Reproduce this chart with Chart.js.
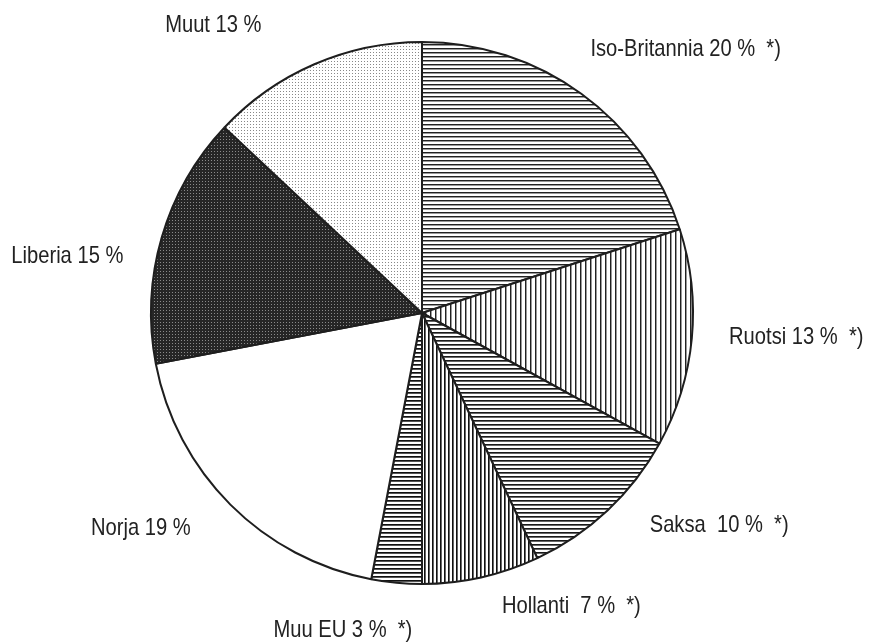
<!DOCTYPE html>
<html>
<head>
<meta charset="utf-8">
<script src="https://cdn.jsdelivr.net/npm/chart.js@4.4.1/dist/chart.umd.min.js"></script>
<style>
  html, body { margin: 0; padding: 0; background: #fff; }
  #wrap { width: 869px; height: 642px; }
</style>
</head>
<body>
<div id="wrap"><canvas id="pieChart"></canvas></div>
<script>
// shares of the fleet, clockwise from 12 o'clock
const countries = ['Iso-Britannia', 'Ruotsi', 'Saksa ', 'Hollanti ', 'Muu EU', 'Norja', 'Liberia', 'Muut'];
const shares = [20, 13, 10, 7, 3, 19, 15, 13];
const euMark = [true, true, true, true, true, false, false, false];

// little tiles for the scanned-look hatches
function tile(w, h, draw) {
    const c = document.createElement('canvas');
    c.width = w; c.height = h;
    const g = c.getContext('2d');
    draw(g);
    return document.createElement('canvas').getContext('2d').createPattern(c, 'repeat');
}
function hLines(period, dark, soft) {
    return tile(8, period, g => {
        g.fillStyle = '#fff'; g.fillRect(0, 0, 8, period);
        g.fillStyle = dark; g.fillRect(0, 0, 8, 1);
        g.fillStyle = soft; g.fillRect(0, 1, 8, 1);
    });
}
function vLines(period, dark, soft) {
    return tile(period, 8, g => {
        g.fillStyle = '#fff'; g.fillRect(0, 0, period, 8);
        g.fillStyle = dark; g.fillRect(0, 0, 1, 8);
        g.fillStyle = soft; g.fillRect(1, 0, 1, 8);
    });
}
function dots(bg, dot) {
    return tile(3, 3, g => {
        g.fillStyle = bg; g.fillRect(0, 0, 3, 3);
        g.fillStyle = dot; g.fillRect(1, 1, 1, 1);
    });
}

const fills = [
    hLines(4, '#222', '#999'),
    vLines(5, '#222', '#999'),
    hLines(4, '#1a1a1a', '#666'),
    vLines(4, '#111', '#666'),
    hLines(4, '#111', '#555'),
    '#ffffff',
    dots('#262626', '#8a8a8a'),
    dots('#ffffff', '#888')
];

// where each label sits: nudge of the mid angle (deg) and radius factor
const labelAngle = [9, -1.7, -11.3, -14.4, 8.6, 7.6, -7.2, -12.6];
const labelRadius = [1.376, 1.384, 1.347, 1.214, 1.207, 1.306, 1.325, 1.31];

const sliceLabels = {
    id: 'sliceLabels',
    afterDraw(chart) {
        const ctx = chart.ctx;
        const arcs = chart.getDatasetMeta(0).data;
        arcs.forEach((arc, i) => {
            const mid = (arc.startAngle + arc.endAngle) / 2 + labelAngle[i] * Math.PI / 180;
            const r = arc.outerRadius * labelRadius[i];
            let txt = countries[i] + ' ' + shares[i] + ' %';
            if (euMark[i]) txt += '  *)';
            ctx.save();
            // condensed sans, like Arial Narrow in the print
            ctx.translate(arc.x + Math.cos(mid) * r, arc.y + Math.sin(mid) * r);
            ctx.scale(0.84, 1);
            ctx.font = '24px "Liberation Sans", Arial, sans-serif';
            ctx.fillStyle = '#222';
            ctx.textAlign = 'center';
            ctx.textBaseline = 'middle';
            ctx.fillText(txt, 0, 0);
            ctx.restore();
        });
    }
};

new Chart(document.getElementById('pieChart'), {
    type: 'pie',
    data: {
        labels: countries,
        datasets: [{
            data: shares,
            backgroundColor: fills,
            borderColor: '#1e1e1e',
            borderWidth: 2
        }]
    },
    options: {
        responsive: true,
        maintainAspectRatio: false,
        animation: false,
        layout: {
            padding: { left: 150, right: 175, top: 41, bottom: 57 }
        },
        plugins: {
            legend: { display: false },
            tooltip: { enabled: false }
        }
    },
    plugins: [sliceLabels]
});
</script>
</body>
</html>
